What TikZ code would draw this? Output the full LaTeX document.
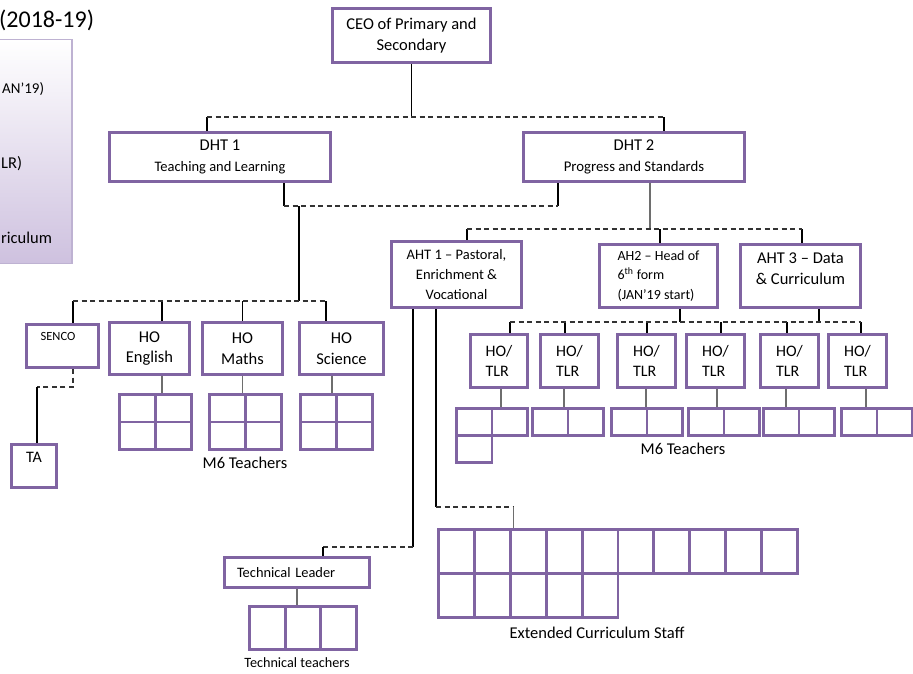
\documentclass[tikz,border=0pt]{standalone}
\usepackage{fontspec}
\setmainfont{Carlito}
\usetikzlibrary{positioning}
\definecolor{boxpurple}{RGB}{128,100,162}
\definecolor{stemgray}{RGB}{110,110,110}
\definecolor{legendline}{RGB}{190,178,210}
\definecolor{legendfill}{RGB}{206,193,223}

\begin{document}
\begin{tikzpicture}[x=1pt,y=-1pt,
  box/.style={draw=boxpurple,line width=2.9pt,fill=white,align=center,inner sep=1pt,
              font=\fontsize{16.5}{20.5}\selectfont},
  cell/.style={draw=boxpurple,line width=2.9pt,inner sep=0pt,anchor=north west},
  link/.style={line width=1.1pt,black},
  stem/.style={line width=1.7pt,stemgray},
  dashline/.style={line width=1.1pt,black!80,dash pattern=on 5pt off 3.5pt},
  caption/.style={font=\fontsize{16.5}{20}\selectfont,inner sep=0pt},
  small/.style={font=\fontsize{14.5}{20}\selectfont}
]
\useasboundingbox (0,0) rectangle (913,673);

% legend panel (cut at the left edge)
\node[anchor=west,inner sep=0pt,font=\fontsize{24}{28}\selectfont] (title) at (-1,20) {(2018-19)};
\node[draw=legendline,line width=1.5pt,top color=white,bottom color=legendfill,
      minimum width=80,minimum height=224,inner sep=0pt,anchor=north east] (legend) at (72.5,38.5) {};
\node[caption,anchor=west,font=\fontsize{15}{18}\selectfont] (lgjan) at (2,89) {AN’19)};
\node[caption,anchor=west] (lgtlr) at (1,164) {LR)};
\node[caption,anchor=west] (lgcur) at (1,238) {riculum};

% senior team
\node[box,minimum width=158.4,minimum height=54.4] (ceo) at (411.5,35.5) {CEO of Primary and\\Secondary};
\node[box,minimum width=221.4,minimum height=49.4] (dht1) at (220,157)
  {DHT 1\\{\fontsize{14.5}{19}\selectfont Teaching and Learning}};
\node[box,minimum width=221.4,minimum height=49.4] (dht2) at (634,157)
  {DHT 2\\{\fontsize{14.8}{19}\selectfont Progress and Standards}};

% assistant heads
\node[box,small,minimum width=130.4,minimum height=66.4] (aht1) at (456.5,274.5)
  {AHT 1 – Pastoral,\\Enrichment \&\\Vocational};
\node[box,align=left,font=\fontsize{14}{19.5}\selectfont,minimum width=118.4,minimum height=63.4] (ah2) at (658.5,276)
  {AH2 – Head of\\6\textsuperscript{th} form\\(JAN’19 start)};
\node[box,minimum width=120.4,minimum height=63.4] (aht3) at (800.5,276)
  {AHT 3 – Data\\\& Curriculum\\[-6pt]};

% heads of subject under DHT 1
\node[box,minimum width=72.4,minimum height=43.4,
      label={[anchor=north,xshift=-4.5,yshift=-9.5,inner sep=0pt,font=\fontsize{12.5}{14}\selectfont]north:SENCO}]
      (senco) at (62.5,346) {};
\node[box,minimum width=80.4,minimum height=52.4] (hoeng) at (149.5,348.5) {HO\\English};
\node[box,minimum width=80.4,minimum height=52.4] (homat) at (242.5,348.5) {HO\\Maths};
\node[box,minimum width=84.4,minimum height=52.4] (hosci) at (341.5,348.5) {HO\\Science};
\node[box,minimum width=45.4,minimum height=43.4,
      label={[anchor=north,yshift=-9.5,inner sep=0pt,font=\fontsize{16}{18}\selectfont]north:TA}]
      (ta) at (34,466) {};

\foreach \g/\x in {eng/117,mat/207,sci/298}{
  \foreach \r in {0,1}{
    \foreach \c in {0,1}{
      \node[cell,minimum width=35.7,minimum height=27.2] (\g-\r\c) at ({\x+1.3+35.7*\c},{393.3+27.2*\r}) {};
    }
  }
}
\node[caption] (m6left) at (245,463) {M6 Teachers};

% HO/TLR under AH2 and AHT 3
\coordinate (tlrbus) at (0,322);
\foreach \i/\cx/\tx/\bx/\gx in {1/499/11/2/454,2/569.5/-4.5/-5.5/530,3/646.5/0.5/-0.5/609,
                               4/715.5/5.5/1.5/686,5/789.5/-2.5/-3.5/761,6/857.5/3.5/8.5/839}{
  \node[box,align=left,font=\fontsize{16}{20}\selectfont,minimum width=57.4,minimum height=53.4] (tlr\i) at (\cx,361) {HO/\\TLR};
  \node[cell,minimum width=35.2,minimum height=27] (tch\i-1) at (\gx+1.3,407.3) {};
  \node[cell,minimum width=35.2,minimum height=27] (tch\i-2) at (\gx+36.5,407.3) {};
  \draw[link] ([xshift=\tx]tlr\i.north) -- ([xshift=\tx]tlr\i.north |- tlrbus) coordinate (tk\i);
  \draw[stem] ([xshift=\bx]tlr\i.south) -- ([xshift=\bx]tlr\i.south |- tch\i-1.north);
}
\node[cell,minimum width=35.2,minimum height=27] (tch1-3) at (455.3,434.3) {};
\node[caption] (m6right) at (683,449) {M6 Teachers};

% technical and extended curriculum staff
\node[box,align=left,text width=120,inner xsep=12.7,font=\fontsize{14.4}{17}\selectfont,
      minimum width=145.4,minimum height=30.4] (techlead) at (297,572.5) {Technical Leader};
\foreach \c in {0,1,2}
  \node[cell,minimum width=35.5,minimum height=42.4] (tt-\c) at ({248.3+35.5*\c},605.3) {};
\node[caption,font=\fontsize{14.2}{17}\selectfont] (techcap) at (297,663) {Technical teachers};

\foreach \c in {0,...,9}
  \node[cell,minimum width=35.84,minimum height=43.7] (ext-0\c) at ({437.3+35.84*\c},528.3) {};
\foreach \c in {0,...,4}
  \node[cell,minimum width=35.84,minimum height=43.7] (ext-1\c) at ({437.3+35.84*\c},572) {};
\node[caption] (extcap) at (597,633) {Extended Curriculum Staff};

% bus lines
\coordinate (ceobus) at (0,117);
\coordinate (dhtbus) at (0,206);
\coordinate (hobus) at (0,301);
\coordinate (ahtbus) at (0,229);
\coordinate (sencobus) at (0,387);
\coordinate (techbus) at (0,547);
\coordinate (extbus) at (0,507);

\draw[link] (ceo.south) -- (ceo.south |- ceobus);
\draw[link] ([xshift=-13]dht1.north) -- ([xshift=-13]dht1.north |- ceobus);
\draw[link] ([xshift=30]dht2.north) -- ([xshift=30]dht2.north |- ceobus);
\draw[dashline] ([xshift=-13]dht1.north |- ceobus) -- ([xshift=30]dht2.north |- ceobus);

\draw[link] ([xshift=64]dht1.south) -- ([xshift=64]dht1.south |- dhtbus);
\draw[link] ([xshift=-76]dht2.south) -- ([xshift=-76]dht2.south |- dhtbus);
\draw[dashline] ([xshift=64]dht1.south |- dhtbus) -- ([xshift=-76]dht2.south |- dhtbus);
\draw[link] ([xshift=79]dht1.south |- dhtbus) -- ([xshift=79]dht1.south |- hobus);

\draw[link] ([xshift=10.5]senco.north) -- ([xshift=10.5]senco.north |- hobus);
\draw[link] ([xshift=12.5]hoeng.north) -- ([xshift=12.5]hoeng.north |- hobus);
\draw[link] (homat.north) -- (homat.north |- hobus);
\draw[link] ([xshift=-15.5]hosci.north) -- ([xshift=-15.5]hosci.north |- hobus);
\draw[dashline] ([xshift=10.5]senco.north |- hobus) -- ([xshift=-15.5]hosci.north |- hobus);

\draw[stem] ([xshift=12.5]hoeng.south) -- ([xshift=12.5]hoeng.south |- eng-00.north);
\draw[stem] (homat.south) -- (homat.south |- mat-00.north);
\draw[stem] ([xshift=-9.5]hosci.south) -- ([xshift=-9.5]hosci.south |- sci-00.north);

\draw[dashline] ([xshift=10.5]senco.south) -- ([xshift=10.5]senco.south |- sencobus)
  -- ([xshift=3]ta.north |- sencobus);
\draw[link] ([xshift=3]ta.north |- sencobus) -- ([xshift=3]ta.north);

\draw[stem] ([xshift=16]dht2.south) -- ([xshift=16]dht2.south |- ahtbus);
\draw[link] ([xshift=10.5]aht1.north) -- ([xshift=10.5]aht1.north |- ahtbus);
\draw[link] ([xshift=1.5]ah2.north) -- ([xshift=1.5]ah2.north |- ahtbus);
\draw[link] ([xshift=1.5]aht3.north) -- ([xshift=1.5]aht3.north |- ahtbus);
\draw[dashline] ([xshift=10.5]aht1.north |- ahtbus) -- ([xshift=1.5]aht3.north |- ahtbus);

\draw[link] ([xshift=21.5]ah2.south) -- ([xshift=21.5]ah2.south |- tlrbus);
\draw[link] ([xshift=18.5]aht3.south) -- ([xshift=18.5]aht3.south |- tlrbus);
\draw[dashline] (tk1) -- (tk6);

\draw[link] ([xshift=-43.5]aht1.south) -- ([xshift=-43.5]aht1.south |- techbus);
\draw[dashline] ([xshift=-43.5]aht1.south |- techbus) -- ([xshift=26]techlead.north |- techbus);
\draw[link] ([xshift=26]techlead.north |- techbus) -- ([xshift=26]techlead.north);
\draw[stem] (techlead.south) -- (techlead.south |- tt-1.north);

\draw[link] ([xshift=-20.5]aht1.south) -- ([xshift=-20.5]aht1.south |- extbus);
\draw[dashline] ([xshift=-20.5]aht1.south |- extbus) -- ([xshift=-15]ext-02.north |- extbus);
\draw[stem] ([xshift=-15]ext-02.north |- extbus) -- ([xshift=-15]ext-02.north);
\end{tikzpicture}
\end{document}
